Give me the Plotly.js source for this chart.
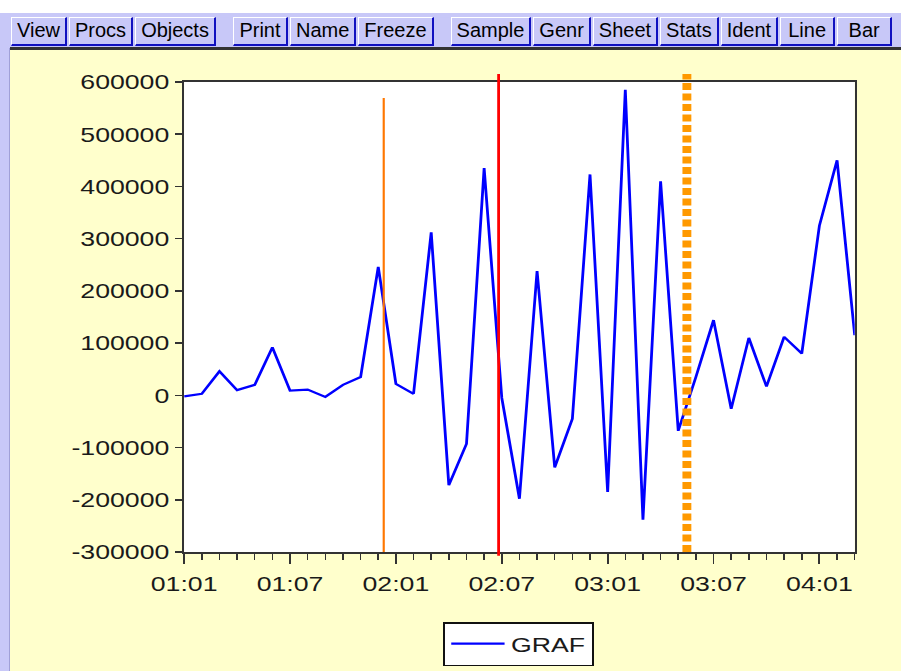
<!DOCTYPE html>
<html>
<head>
<meta charset="utf-8">
<script src="https://cdn.plot.ly/plotly-3.0.1.min.js"></script>
<style>
html,body{margin:0;padding:0;width:901px;height:671px;overflow:hidden;background:#FFFFCC;}
#stage{position:absolute;left:0;top:0;width:709.45px;height:671px;transform:scaleX(1.27);transform-origin:0 0;}
#chart{width:709.45px;height:671px;}
#topwhite{position:absolute;left:0;top:0;width:901px;height:13px;background:#ffffff;}
#toolbar{position:absolute;left:0;top:13px;width:901px;height:35px;background:#C8C8F8;display:flex;align-items:flex-start;padding-left:11px;padding-top:4px;box-sizing:border-box;overflow:hidden;}
.grp{display:flex;margin-right:15px;}
.btn{height:29px;box-sizing:border-box;border-style:solid;border-color:#ffffff #1010C0 #1010C0 #ffffff;border-width:1px 2px 2px 1px;background:#C8C8F8;font:20px "Liberation Sans",Arial,sans-serif;line-height:25px;padding:0 5px;margin-right:2px;min-width:55px;text-align:center;color:#000;white-space:nowrap;}
#rule{position:absolute;left:10px;top:47px;width:891px;height:3px;background:#333333;}
#leftstrip{position:absolute;left:0;top:13px;width:9px;height:658px;background:#C8C8F8;border-right:1px solid #A0A0D8;}
</style>
</head>
<body>
<div id="stage"><div id="chart"></div></div>
<div id="topwhite"></div>
<div id="leftstrip"></div>
<div id="toolbar"></div>
<div id="rule"></div>
<script>
// ---- data ----
var toolbarGroupA = ["View", "Procs", "Objects"];
var toolbarGroupB = ["Print", "Name", "Freeze"];
var toolbarGroupC = ["Sample", "Genr", "Sheet", "Stats", "Ident", "Line", "Bar"];

var periods = ["01:01","01:02","01:03","01:04","01:05","01:06","01:07","01:08","01:09","01:10","01:11","01:12",
               "02:01","02:02","02:03","02:04","02:05","02:06","02:07","02:08","02:09","02:10","02:11","02:12",
               "03:01","03:02","03:03","03:04","03:05","03:06","03:07","03:08","03:09","03:10","03:11","03:12",
               "04:01","04:02","04:03"];
var graf = [-2000, 3000, 46000, 10000, 20000, 92000, 9000, 11000, -3000, 20000, 35000, 246000,
            22000, 3000, 312000, -172000, -93000, 435000, -5000, -198000, 238000, -138000, -45000, 423000,
            -185000, 585000, -238000, 410000, -68000, 35000, 144000, -26000, 110000, 17000, 112000, 80000,
            325000, 450000, 115000];
var xTickLabels = ["01:01","01:07","02:01","02:07","03:01","03:07","04:01"];
var yTickValues = [-300000,-200000,-100000,0,100000,200000,300000,400000,500000,600000];
var seriesName = "GRAF";
// vertical marker lines, in period-index units
var markerOrange = 11.31;
var markerRed = 17.82;
var markerDashed = 28.49;

// ---- toolbar ----
var tb = document.getElementById('toolbar');
[toolbarGroupA, toolbarGroupB, toolbarGroupC].forEach(function(g){
  var d = document.createElement('div'); d.className = 'grp';
  g.forEach(function(t){ var b = document.createElement('div'); b.className='btn'; b.textContent=t; d.appendChild(b); });
  tb.appendChild(d);
});

// ---- chart ----
var xIdx = periods.map(function(p, i){ return i; });
var tickvals = xTickLabels.map(function(l){ return periods.indexOf(l); });

var trace = {
  x: xIdx, y: graf, type: 'scatter', mode: 'lines', name: seriesName,
  line: {color: '#0000FF', width: 2.2}
};

var axisCommon = {
  showline: true, linecolor: '#333333', linewidth: 2, mirror: true,
  showgrid: false, zeroline: false, ticks: 'outside', tickcolor: '#333333', tickwidth: 1.5,
  fixedrange: true
};

var layout = {
  width: 709.45, height: 671,
  paper_bgcolor: '#FFFFCC', plot_bgcolor: '#FFFFFF',
  margin: {l: 144.5, r: 36, t: 81.7, b: 118.5, pad: 0, autoexpand: false},
  font: {family: '"Liberation Sans", Arial, sans-serif', size: 21, color: '#1a1a1a'},
  xaxis: Object.assign({}, axisCommon, {
    range: [0, periods.length - 1], tickmode: 'array', tickvals: tickvals, ticktext: xTickLabels,
    ticklen: 10, ticklabelstandoff: 2,
    minor: {tickmode: 'linear', tick0: 0, dtick: 1, ticks: 'outside', ticklen: 6, tickwidth: 1.2, tickcolor: '#333333', showgrid: false}
  }),
  yaxis: Object.assign({}, axisCommon, {
    range: [-300000, 600000], tickmode: 'array', tickvals: yTickValues,
    ticktext: yTickValues.map(function(v){ return String(v); }),
    ticklen: 5.5, ticklabelstandoff: 7.5
  }),
  showlegend: true,
  legend: {
    x: 0.386, xanchor: 'left', y: 0.073, yref: 'container', yanchor: 'top',
    bgcolor: '#FFFFFF', bordercolor: '#111111', borderwidth: 1.5, itemwidth: 42,
    font: {size: 21, color: '#1a1a1a'}
  },
  shapes: [
    {type: 'line', xref: 'x', yref: 'paper', x0: markerOrange, x1: markerOrange, y0: 0, y1: 0.966,
     line: {color: '#FF7700', width: 1.7}},
    {type: 'line', xref: 'x', yref: 'paper', x0: markerRed, x1: markerRed, y0: -0.008, y1: 1.017,
     line: {color: '#FF0000', width: 2.2}},
    {type: 'line', xref: 'x', yref: 'paper', x0: markerDashed, x1: markerDashed, y0: 0, y1: 1.017,
     line: {color: '#FF9900', width: 7, dash: '7px,3.5px'}}
  ]
};

Plotly.newPlot('chart', [trace], layout, {staticPlot: true, displayModeBar: false});
</script>
</body>
</html>
